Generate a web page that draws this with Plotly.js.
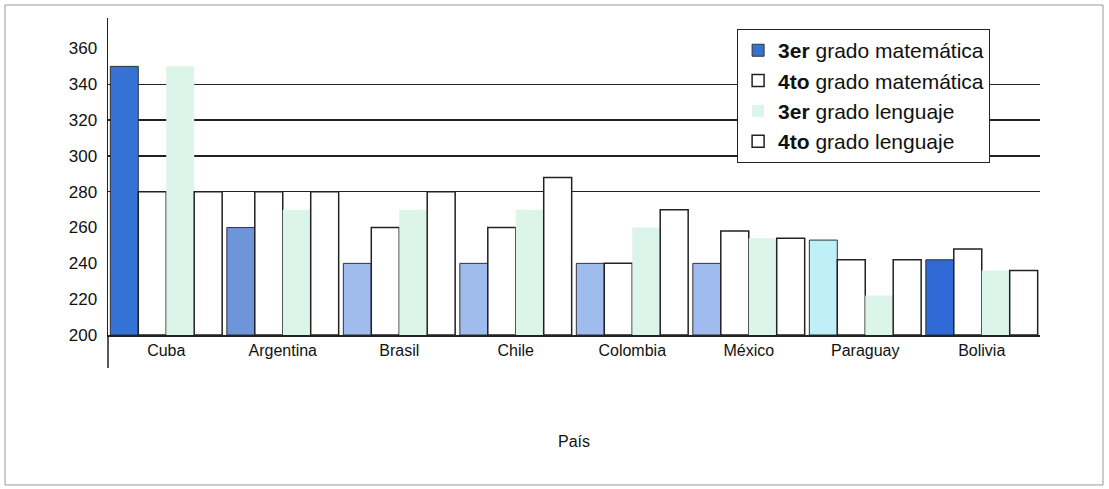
<!DOCTYPE html>
<html>
<head>
<meta charset="utf-8">
<script src="https://cdn.plot.ly/plotly-3.0.1.min.js"></script>
<style>html,body{margin:0;padding:0;background:#fff;}#chart{width:1109px;height:489px;}</style>
</head>
<body>
<div id="chart"></div>
<script>
var countries = ["Cuba", "Argentina", "Brasil", "Chile", "Colombia", "México", "Paraguay", "Bolivia"];
var mat3 = [350, 260, 240, 240, 240, 240, 253, 242];
var mat4 = [280, 280, 260, 260, 240, 258, 242, 248];
var len3 = [350, 270, 270, 270, 260, 254, 222, 236];
var len4 = [280, 280, 280, 288, 270, 254, 242, 236];
var yTicks = [200, 220, 240, 260, 280, 300, 320, 340, 360];
var gridTicks = [280, 300, 320, 340];

var mat3Colors = ['#3572D6', '#6E95D9', '#A0BCEE', '#A0BCEE', '#A0BCEE', '#A0BCEE', '#BFEFF7', '#2F6AD6'];
var base = 200;
function rel(arr){ return arr.map(function(v){ return v - base; }); }

var traces = [
  {type:'bar', name:'<b>3er</b> grado matemática', x:countries, y:rel(mat3), base:base,
   marker:{color:mat3Colors, line:{color:'#333', width:1}}},
  {type:'bar', name:'<b>4to</b> grado matemática', x:countries, y:rel(mat4), base:base,
   marker:{color:'#ffffff', line:{color:'#222', width:1.5}}},
  {type:'bar', name:'<b>3er</b> grado lenguaje', x:countries, y:rel(len3), base:base,
   marker:{color:'#DBF5EA', line:{color:'#DBF5EA', width:0}}},
  {type:'bar', name:'<b>4to</b> grado lenguaje', x:countries, y:rel(len4), base:base,
   marker:{color:'#ffffff', line:{color:'#222', width:1.5}}}
];

var layout = {
  width:1109, height:489,
  margin:{l:108, r:69, t:18, b:154},
  paper_bgcolor:'#fff', plot_bgcolor:'rgba(0,0,0,0)',
  font:{family:'Liberation Sans, Arial, sans-serif', color:'#111', size:16},
  barmode:'group', bargap:0.04, bargroupgap:0,
  showlegend:true,
  legend:{x:0.675, y:0.965, xanchor:'left', yanchor:'top', bgcolor:'#fff',
          bordercolor:'#222', borderwidth:1, font:{size:21, color:'#111'},
          itemwidth:30, tracegroupgap:0},
  xaxis:{showline:true, linecolor:'#222', linewidth:1.5, ticks:'', showgrid:false,
         tickfont:{size:16}, title:{text:'País', font:{size:16}, standoff:78}, automargin:false},
  yaxis:{range:[200, 377], tickvals:yTicks, showline:true, linecolor:'#222', linewidth:1.5,
         showgrid:false, zeroline:false, ticks:'', tickfont:{size:17}, ticklabelstandoff:6, automargin:false},
  yaxis2:{range:[200, 377], overlaying:'y', tickvals:gridTicks, showgrid:true, gridcolor:'#222',
          gridwidth:1.2, showticklabels:false, zeroline:false, showline:false},
  shapes:[
    {type:'rect', xref:'paper', yref:'paper', x0:-0.1105, x1:1.0676, y0:-0.473, y1:1.041,
     line:{color:'#999', width:1}, fillcolor:'rgba(0,0,0,0)'},
    {type:'line', xref:'paper', yref:'paper', x0:0, x1:0, y0:0, y1:-0.104,
     line:{color:'#222', width:1.5}}
  ]
};

// invisible helper trace so that the yaxis2 gridlines are drawn
traces.push({type:'scatter', x:[countries[0]], y:[gridTicks[0]], yaxis:'y2', mode:'markers',
  marker:{opacity:0}, showlegend:false, hoverinfo:'skip'});

Plotly.newPlot('chart', traces, layout, {staticPlot:true});
</script>
</body>
</html>
